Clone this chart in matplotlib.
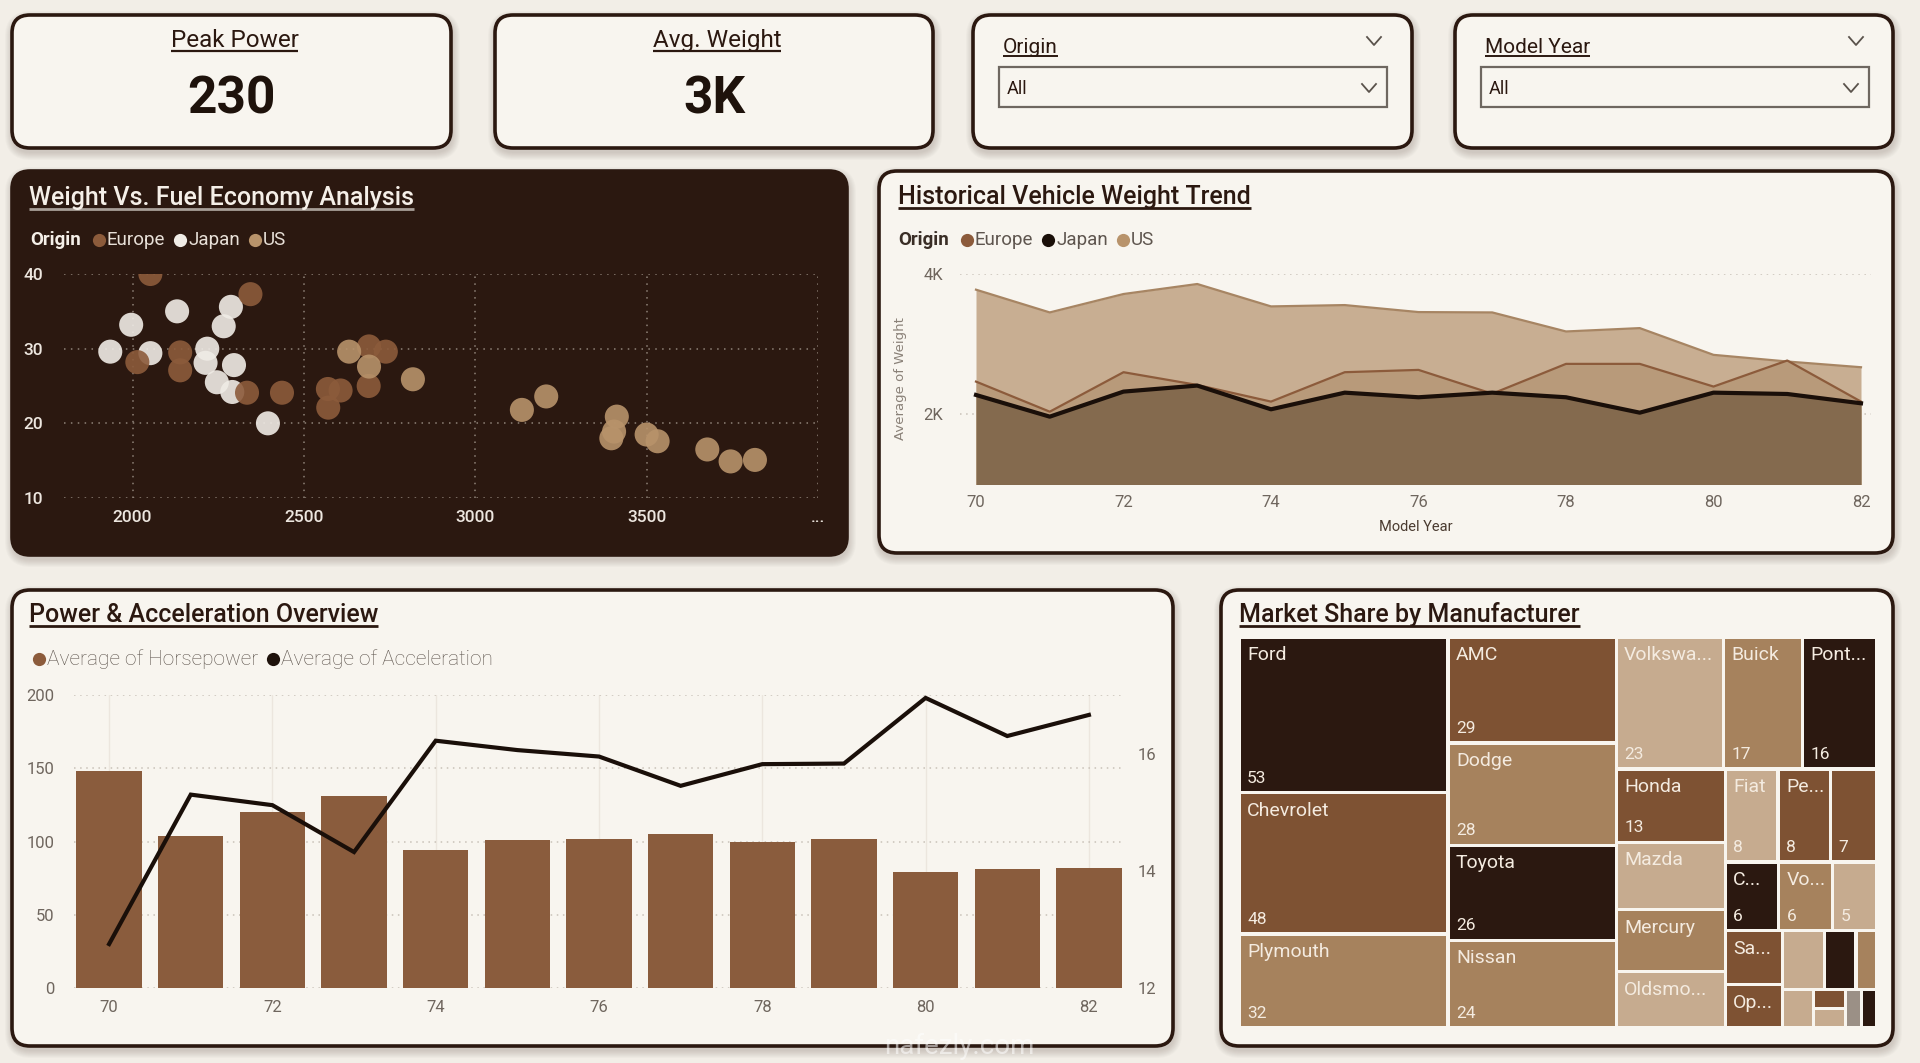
import matplotlib
matplotlib.use('Agg')
import matplotlib.pyplot as plt
from matplotlib.patches import FancyBboxPatch, Rectangle

W, H, DPI = 1920, 1063, 100
FONT = ['Roboto', 'Liberation Sans', 'DejaVu Sans']
plt.rcParams['font.family'] = FONT

# ---------------- data ----------------
kpi_titles = ['Peak Power', 'Avg. Weight']
kpi_values = ['230', '3K']
slicer_titles = ['Origin', 'Model Year']
slicer_values = ['All', 'All']

origin_names = ['Europe', 'Japan', 'US']

eu_weight = [2052, 2344, 2014, 2139, 2139, 2334, 2436, 2570, 2607, 2571, 2689, 2690, 2739]
eu_mpg = [40.0, 37.3, 28.2, 29.5, 27.1, 24.1, 24.1, 24.6, 24.4, 22.1, 25.0, 30.3, 29.6]
jp_weight = [1935, 1996, 2130, 2052, 2218, 2287, 2266, 2296, 2213, 2246, 2291, 2395]
jp_mpg = [29.6, 33.2, 35.0, 29.4, 30.0, 35.6, 33.0, 27.8, 28.1, 25.5, 24.2, 20.0]
us_weight = [2632, 2690, 2818, 3136, 3207, 3413, 3405, 3397, 3500, 3532, 3677, 3745, 3816]
us_mpg = [29.6, 27.6, 25.9, 21.8, 23.6, 20.9, 18.9, 18.0, 18.5, 17.6, 16.5, 14.9, 15.1]
scatter_xticks = [2000, 2500, 3000, 3500, 4000]
scatter_xticklabels = ['2000', '2500', '3000', '3500', '...']
scatter_yticks = [10, 20, 30, 40]

years = [70, 71, 72, 73, 74, 75, 76, 77, 78, 79, 80, 81, 82]
weight_us = [3776, 3451, 3714, 3857, 3537, 3556, 3456, 3451, 3179, 3227, 2845, 2750, 2668]
weight_eu = [2463, 2033, 2597, 2415, 2177, 2597, 2630, 2290, 2716, 2716, 2392, 2764, 2177]
weight_jp = [2272, 1962, 2320, 2406, 2067, 2305, 2239, 2305, 2239, 2019, 2305, 2286, 2153]
weight_yticks = [2000, 4000]
weight_yticklabels = ['2K', '4K']

horsepower = [148, 104, 120, 131, 94, 101, 102, 105, 100, 102, 79, 81, 82]
acceleration = [12.75, 15.3, 15.12, 14.32, 16.22, 16.06, 15.95, 15.45, 15.82, 15.83, 16.95, 16.3, 16.66]
hp_yticks = [0, 50, 100, 150, 200]
acc_yticks = [12, 14, 16]
bar_legend = ['Average of Horsepower', 'Average of Acceleration']

makers = ['Ford', 'Chevrolet', 'Plymouth', 'AMC', 'Dodge', 'Toyota', 'Nissan',
          'Volkswagen', 'Buick', 'Pontiac', 'Honda', 'Mazda', 'Mercury', 'Oldsmobile',
          'Fiat', 'Peugeot', 'Audi', 'Chrysler', 'Volvo', 'Renault', 'Saab', 'Opel',
          'Subaru', 'Mercedes', 'BMW', 'Cadillac', 'Capri', 'Citroen', 'Hi', 'Triumph']
maker_counts = [53, 48, 32, 29, 28, 26, 24, 23, 17, 16, 13, 12, 11, 10,
                8, 8, 7, 6, 6, 5, 5, 4, 4, 3, 2, 2, 1, 1, 1, 1]
maker_labels = ['Ford', 'Chevrolet', 'Plymouth', 'AMC', 'Dodge', 'Toyota', 'Nissan',
                'Volkswa...', 'Buick', 'Pont...', 'Honda', 'Mazda', 'Mercury', 'Oldsmo...',
                'Fiat', 'Pe...', '', 'C...', 'Vo...', '', 'Sa...', 'Op...',
                '', '', '', '', '', '', '', '']
maker_value_labels = ['53', '48', '32', '29', '28', '26', '24', '23', '17', '16', '13', '', '', '',
                      '8', '8', '7', '6', '6', '5', '', '', '', '', '', '', '', '', '', '']

# ---------------- styles ----------------
BG = '#F2EEE7'
CARD = '#F8F5EF'
DARK = '#2B1810'
INK = '#1E120B'
EU_C = '#8C5B3B'
JP_C = '#F0ECE6'
US_C = '#B8936B'
US_F, EU_F, JP_F = '#C8AE92', '#B89A7A', '#846A4E'
US_L, EU_L, JP_L = '#A78563', '#8C5B3B', '#1A0F09'
BAR_C = '#8A5C3D'
TICK_C = '#6F665E'
GRID_C = '#C9C1B8'
T_DARK, T_BROWN, T_TAN, T_LIGHT, T_GREY = '#2B1810', '#7E5233', '#A6825D', '#C6AB8F', '#9B9086'
maker_colors = [T_DARK, T_BROWN, T_TAN, T_BROWN, T_TAN, T_DARK, T_TAN, T_LIGHT, T_TAN, T_DARK,
                T_BROWN, T_LIGHT, T_TAN, T_LIGHT, T_LIGHT, T_BROWN, T_BROWN, T_DARK, T_TAN, T_LIGHT,
                T_BROWN, T_BROWN, T_LIGHT, T_DARK, T_TAN, T_LIGHT, T_BROWN, T_LIGHT, T_GREY, T_DARK]

fig = plt.figure(figsize=(W / DPI, H / DPI), dpi=DPI)
fig.patch.set_facecolor(BG)
ax_bg = fig.add_axes([0, 0, 1, 1])
ax_bg.set_xlim(0, W)
ax_bg.set_ylim(H, 0)
ax_bg.axis('off')
ax_bg.set_zorder(-5)
renderer = fig.canvas.get_renderer()


def axes_px(x0, y0, x1, y1):
    a = fig.add_axes([x0 / W, 1 - y1 / H, (x1 - x0) / W, (y1 - y0) / H])
    a.set_facecolor('none')
    return a


def card(x, y, w, h, fc, r=18):
    for i in range(1, 9):
        ax_bg.add_patch(FancyBboxPatch((x + 1, y + 4), w, h,
                                       boxstyle=f"round,pad={i},rounding_size={r + i}",
                                       fc='#3A2A20', ec='none', alpha=0.022))
    ax_bg.add_patch(FancyBboxPatch((x, y), w, h, boxstyle=f"round,pad=0,rounding_size={r}",
                                   fc=fc, ec=DARK, lw=2.6))


def text_u(x, y, s, fs, color, ucolor, ha='left', weight='medium', off=4, ulw=1.8):
    t = ax_bg.text(x, y, s, fontsize=fs, color=color, ha=ha, va='baseline', fontweight=weight)
    bb = t.get_window_extent(renderer)
    ax_bg.plot([bb.x0, bb.x1], [y + off, y + off], color=ucolor, lw=ulw, solid_capstyle='butt')
    return t


def chevron(cx, cy, col='#5A524B'):
    ax_bg.plot([cx - 7, cx, cx + 7], [cy - 4, cy + 4, cy - 4], color=col, lw=1.3)


def legend_row(x, y, items, fs, tcolor, label=None, lcolor=None, weight='normal'):
    if label:
        t = ax_bg.text(x, y, label, fontsize=fs, fontweight='bold', color=lcolor, va='center')
        x = t.get_window_extent(renderer).x1 + 12
    for col, name in items:
        ax_bg.plot(x + 6, y, 'o', ms=9.5, color=col, mec='none')
        t = ax_bg.text(x + 14, y, name, fontsize=fs, color=tcolor, va='center', fontweight=weight)
        x = t.get_window_extent(renderer).x1 + 9


# ---------------- cards ----------------
cards = [(12, 15, 439, 133, CARD), (495, 15, 438, 133, CARD), (973, 15, 439, 133, CARD),
         (1455, 15, 438, 133, CARD), (12, 171, 835, 384, DARK), (879, 171, 1014, 382, CARD),
         (12, 590, 1161, 456, CARD), (1221, 590, 672, 456, CARD)]
for cx, cy, cw, ch, cf in cards:
    card(cx, cy, cw, ch, cf)

# KPI cards
for (cx, cy, cw, ch, _), ttl, val in zip(cards[:2], kpi_titles, kpi_values):
    mid = cx + cw / 2
    text_u(mid + 3, 47, ttl, 17.5, '#2B1810', '#2B1810', ha='center', weight='normal', off=4, ulw=1.6)
    ax_bg.text(mid, 99, val, fontsize=37, fontweight='bold', color=INK, ha='center', va='center')

# slicers
for (cx, cy, cw, ch, _), ttl, val in zip(cards[2:4], slicer_titles, slicer_values):
    text_u(cx + 30, 53, ttl, 15, '#2B1810', '#2B1810', weight='normal', off=3, ulw=1.4)
    chevron(cx + 401, 41)
    ax_bg.add_patch(Rectangle((cx + 26, 67), 388, 40, fc=CARD, ec='#6E6760', lw=1.6))
    ax_bg.text(cx + 34, 89, val, fontsize=13, color='#2B1810', va='center')
    chevron(cx + 396, 88)

# ---------------- scatter ----------------
text_u(29, 205, 'Weight Vs. Fuel Economy Analysis', 18, '#F5EFE8', '#A89F98', off=4, ulw=2)
legend_row(30, 240, [(EU_C, 'Europe'), (JP_C, 'Japan'), (US_C, 'US')], 13.5, '#E8E0D8',
           label='Origin', lcolor='#F5EFE8')
ax_sc = axes_px(64, 274, 818, 498)
ax_sc.set_xlim(1800, 4000)
ax_sc.set_ylim(10, 40)
ax_sc.set_xticks(scatter_xticks, scatter_xticklabels)
ax_sc.set_yticks(scatter_yticks)
ax_sc.grid(True, color='#8F8278', lw=1.1, linestyle=(0, (1, 3.5)))
ax_sc.set_axisbelow(True)
for s in ax_sc.spines.values():
    s.set_visible(False)
ax_sc.tick_params(length=0, labelsize=12.5, labelcolor='#EDE6DF', pad=9)
ax_sc.tick_params(axis='y', pad=15)
for lbl in ax_sc.get_xticklabels() + ax_sc.get_yticklabels():
    lbl.set_fontweight('medium')
ax_sc.scatter(jp_weight, jp_mpg, s=300, color=JP_C, alpha=0.9, edgecolors='none', zorder=3)
ax_sc.scatter(eu_weight, eu_mpg, s=300, color=EU_C, alpha=0.9, edgecolors='none', zorder=3)
ax_sc.scatter(us_weight, us_mpg, s=300, color=US_C, alpha=0.9, edgecolors='none', zorder=3)

# ---------------- area chart ----------------
text_u(898, 204, 'Historical Vehicle Weight Trend', 18, '#2B1810', '#2B1810', off=4, ulw=2)
legend_row(898, 240, [(EU_C, 'Europe'), (JP_L, 'Japan'), (US_C, 'US')], 13.5, '#5E554E',
           label='Origin', lcolor='#3A2E26')
ax_ar = axes_px(960, 274, 1871, 484)
ax_ar.set_xlim(70 - 16 / 73.75, 82 + 10 / 73.75)
ax_ar.set_ylim(1000, 4000)
ax_ar.set_yticks(weight_yticks, weight_yticklabels)
ax_ar.set_xticks(years[::2], [str(y) for y in years[::2]])
ax_ar.yaxis.grid(True, color=GRID_C, lw=1.1, linestyle=(0, (1, 3)))
ax_ar.set_axisbelow(True)
for s in ax_ar.spines.values():
    s.set_visible(False)
ax_ar.tick_params(length=0, labelsize=12, labelcolor=TICK_C)
ax_ar.tick_params(axis='x', pad=8)
ax_ar.tick_params(axis='y', pad=12)
ax_ar.fill_between(years, 0, weight_us, color=US_F, lw=0, zorder=1)
ax_ar.plot(years, weight_us, color=US_L, lw=1.6, zorder=1.5)
ax_ar.fill_between(years, 0, weight_eu, color=EU_F, lw=0, zorder=2)
ax_ar.plot(years, weight_eu, color=EU_L, lw=1.6, zorder=2.5)
ax_ar.fill_between(years, 0, weight_jp, color=JP_F, lw=0, zorder=3)
ax_ar.plot(years, weight_jp, color=JP_L, lw=3, zorder=3.5)
ax_ar.set_xlabel('Model Year', fontsize=10.5, color='#4A3B30', labelpad=7)
ax_ar.set_ylabel('Average of Weight', fontsize=9.5, color='#8A8178', family='DejaVu Sans')
ax_ar.yaxis.set_label_coords(-53 / 911, 0.5)

# ---------------- bar + line ----------------
text_u(29, 622, 'Power & Acceleration Overview', 18, '#2B1810', '#2B1810', off=4, ulw=2)
legend_row(33, 659, [(EU_C, bar_legend[0]), (INK, bar_legend[1])], 15, '#5E554E', weight='light')
ax_b = axes_px(74, 695, 1124, 988)
ax_b.set_xlim(69.57, 82.43)
ax_b.set_ylim(0, 200)
ax_b.set_yticks(hp_yticks)
ax_b.set_xticks(years[::2], [str(y) for y in years[::2]])
ax_b.yaxis.grid(True, color=GRID_C, lw=1.1, linestyle=(0, (1, 3)))
ax_b.xaxis.grid(True, color='#ECE6DE', lw=1)
ax_b.set_axisbelow(True)
for s in ax_b.spines.values():
    s.set_visible(False)
ax_b.tick_params(length=0, labelsize=12, labelcolor=TICK_C)
ax_b.tick_params(axis='x', pad=9)
ax_b.tick_params(axis='y', pad=14)
ax_b.bar(years, horsepower, width=0.8, color=BAR_C, zorder=2)
ax_b2 = ax_b.twinx()
ax_b2.set_ylim(12, 17)
ax_b2.set_yticks(acc_yticks)
for s in ax_b2.spines.values():
    s.set_visible(False)
ax_b2.tick_params(length=0, labelsize=12, labelcolor=TICK_C, pad=10)
ax_b2.plot(years, acceleration, color=JP_L, lw=3, zorder=3, solid_joinstyle='miter')

# ---------------- treemap ----------------
text_u(1239, 622, 'Market Share by Manufacturer', 18, '#2B1810', '#2B1810', off=4, ulw=2)

PHI = (1 + 5 ** 0.5) / 2


def squarify(values, x0, y0, x1, y1, ratio=PHI):
    n = len(values)
    rects = [None] * n
    i0 = i1 = 0
    value = float(sum(values))
    while i0 < n:
        dx, dy = x1 - x0, y1 - y0
        sumv = values[i1]
        i1 += 1
        minv = maxv = sumv
        alpha = max(dy / dx, dx / dy) / (value * ratio)
        beta = sumv * sumv * alpha
        minr = max(maxv / beta, beta / minv)
        while i1 < n:
            nv = values[i1]
            s2 = sumv + nv
            mn, mx = min(minv, nv), max(maxv, nv)
            beta = s2 * s2 * alpha
            nr = max(mx / beta, beta / mn)
            if nr > minr:
                break
            sumv, minv, maxv, minr = s2, mn, mx, nr
            i1 += 1
        row = range(i0, i1)
        if dx < dy:
            yb = y0 + dy * sumv / value if i1 < n else y1
            xx = x0
            for k in row:
                w = dx * values[k] / sumv
                rects[k] = (xx, y0, w, yb - y0)
                xx += w
            y0 = yb
        else:
            xb = x0 + dx * sumv / value if i1 < n else x1
            yy = y0
            for k in row:
                h = dy * values[k] / sumv
                rects[k] = (x0, yy, xb - x0, h)
                yy += h
            x0 = xb
        value -= sumv
        i0 = i1
    return rects


tm = (1239, 637, 1877, 1028)
ax_tm = axes_px(*tm)
tw, th = tm[2] - tm[0], tm[3] - tm[1]
ax_tm.set_xlim(0, tw)
ax_tm.set_ylim(th, 0)
ax_tm.axis('off')
gap = 1.6
for (rx, ry, rw, rh), col, name, val in zip(squarify(maker_counts, 0, 0, tw, th),
                                             maker_colors, maker_labels, maker_value_labels):
    ax_tm.add_patch(Rectangle((rx + gap, ry + gap), rw - 2 * gap, rh - 2 * gap, fc=col, ec='none'))
    if name:
        ax_tm.text(rx + 8, ry + 9, name, fontsize=14, color='#F4EBE0', va='top', ha='left')
    if val:
        ax_tm.text(rx + 8, ry + rh - 7, val, fontsize=12.5, color='#F4EBE0', va='bottom', ha='left')

# watermark
ax_bg.text(959, 1046, 'nafezly.com', fontsize=20, color='#FFFFFF', alpha=0.55, ha='center', va='center',
           zorder=20)
ax_bg.set_zorder(-5)

fig.savefig('out.png', dpi=DPI, facecolor=BG)
